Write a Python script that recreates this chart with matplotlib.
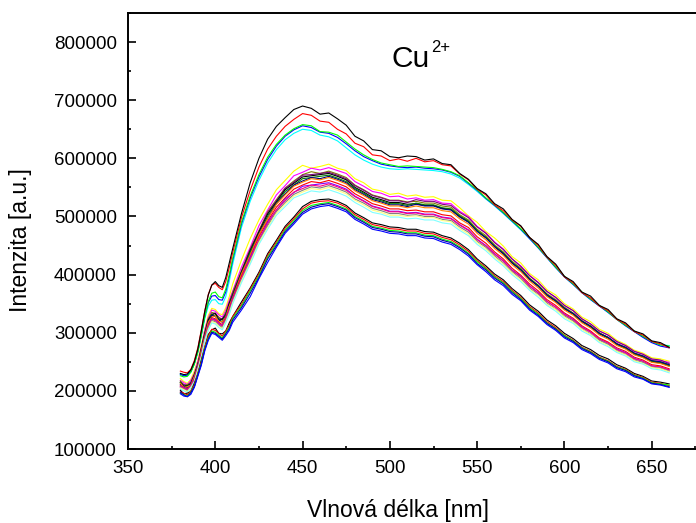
import matplotlib
matplotlib.use("Agg")
import matplotlib.pyplot as plt
import numpy as np
from matplotlib.ticker import MultipleLocator, FixedLocator, StrMethodFormatter

plt.rcParams["font.family"] = ["Liberation Sans", "DejaVu Sans"]

# Wavelength grid [nm]
wavelength = [380, 382, 384, 386, 388, 390, 392, 394, 396, 398, 400, 402, 404, 406, 408, 410,
              415, 420, 425, 430, 435, 440, 445, 450, 455, 460, 465, 470, 475, 480, 485, 490,
              495, 500, 505, 510, 515, 520, 525, 530, 535, 540, 545, 550, 555, 560, 565, 570,
              575, 580, 585, 590, 595, 600, 605, 610, 615, 620, 625, 630, 635, 640, 645, 650,
              655, 660]

# Emission spectra, intensity in thousands of a.u.
# --- upper set
top_black = [230, 228, 229, 236, 250, 272, 303, 337, 365, 382, 388, 381, 378, 395, 420, 445,
             505, 558, 600, 633, 655, 670, 684, 690, 686, 676,
             678, 668, 657, 638, 630, 615, 613, 603, 601, 604,
             603, 597, 599, 591, 589, 574, 564, 548, 539, 522,
             513, 495, 484, 464, 452, 431, 418, 397, 388, 370,
             363, 347, 340, 324, 317, 303, 298, 286, 283, 275]
top_red = [234, 232, 231, 237, 252, 274, 305, 338, 366, 382, 385, 378, 374, 388, 412, 438,
           498, 545, 585, 616, 638, 655, 667, 677, 674, 664,
           662, 650, 642, 626, 620, 606, 604, 596, 599, 595,
           600, 594, 596, 589, 587, 573, 563, 547, 537, 520,
           510, 494, 483, 464, 450, 430, 416, 396, 386, 369,
           360, 346, 338, 323, 315, 302, 296, 285, 281, 274]
top_green = [226, 224, 225, 232, 246, 267, 296, 328, 354, 368, 370, 362, 360, 375, 400, 428,
             490, 535, 572, 602, 624, 640, 651, 658, 656, 646,
             645, 640, 628, 616, 606, 598, 592, 589, 586, 587,
             586, 585, 584, 581, 577, 570, 558, 546, 532, 520,
             507, 493, 479, 464, 447, 430, 413, 397, 384, 370,
             358, 347, 336, 323, 313, 303, 294, 285, 279, 277]
top_blue = [228, 226, 227, 233, 247, 268, 297, 329, 352, 363, 364, 357, 356, 370, 396, 425,
            487, 532, 568, 598, 621, 638, 649, 656, 653, 645,
            643, 636, 625, 613, 603, 596, 590, 587, 585, 584,
            585, 583, 582, 580, 576, 569, 557, 545, 531, 519,
            506, 492, 478, 462, 446, 429, 412, 396, 383, 369,
            357, 346, 335, 323, 312, 302, 292, 283, 277, 274]
top_cyan = [229, 227, 227, 233, 246, 266, 294, 324, 346, 356, 357, 350, 349, 362, 388, 418,
            481, 526, 562, 592, 615, 632, 643, 650, 648, 640,
            637, 630, 618, 606, 597, 590, 585, 582, 581, 582,
            581, 580, 579, 577, 573, 566, 555, 543, 530, 518,
            505, 491, 477, 462, 446, 429, 412, 396, 383, 369,
            357, 346, 335, 323, 312, 302, 293, 284, 279, 278]

# --- middle set
mid_yellow = [221, 216, 213, 220, 234, 253, 279, 306, 330, 342, 340, 333, 331, 343, 362, 384,
              425, 462, 494, 521, 546, 562, 578, 588, 583, 586,
              590, 583, 579, 565, 558, 547, 544, 538, 540, 535,
              537, 533, 534, 528, 527, 515, 501, 490, 474, 463,
              449, 431, 420, 402, 391, 374, 365, 350, 341, 327,
              319, 306, 299, 287, 280, 270, 265, 257, 255, 251]
mid_magenta = [218, 214, 211, 218, 230, 251, 275, 305, 326, 339, 337, 331, 327, 339, 356, 372,
               413, 447, 484, 511, 537, 553, 570, 576, 583, 580,
               584, 579, 574, 560, 552, 543, 540, 534, 535, 530,
               532, 528, 529, 523, 522, 509, 500, 483, 472, 456,
               444, 427, 415, 399, 387, 371, 360, 347, 338, 324,
               315, 303, 296, 284, 278, 268, 263, 254, 252, 249]
mid_darkyellow = [217, 210, 211, 214, 229, 246, 274, 300, 324, 335, 333, 327, 323, 335, 351, 370,
                  407, 444, 476, 508, 529, 549, 561, 572, 577, 574,
                  578, 573, 567, 554, 546, 537, 533, 528, 528, 525,
                  526, 523, 523, 518, 516, 503, 494, 478, 467, 451,
                  439, 423, 411, 394, 382, 367, 357, 344, 334, 321,
                  312, 300, 292, 281, 275, 265, 260, 252, 250, 245]
mid_purple = [214, 211, 208, 215, 228, 245, 273, 299, 323, 332, 334, 324, 324, 332, 352, 367,
              405, 443, 474, 506, 527, 548, 559, 571, 572, 574,
              576, 571, 565, 553, 545, 536, 532, 527, 527, 524,
              529, 526, 526, 521, 519, 507, 498, 482, 471, 455,
              443, 427, 414, 398, 386, 371, 361, 347, 338, 324,
              315, 303, 296, 285, 278, 268, 263, 255, 253, 247]
mid_black = [215, 208, 209, 212, 227, 244, 272, 298, 322, 331, 333, 323, 323, 331, 350, 365,
             404, 441, 473, 504, 525, 546, 557, 568, 570, 572,
             574, 569, 563, 550, 542, 533, 529, 524, 524, 521,
             522, 519, 519, 514, 512, 500, 491, 475, 464, 448,
             436, 420, 408, 392, 380, 364, 354, 341, 332, 319,
             310, 298, 291, 280, 273, 263, 258, 250, 248, 243]
mid_olive = [214, 207, 208, 211, 225, 246, 269, 298, 318, 331, 329, 323, 319, 331, 346, 365,
             402, 439, 470, 501, 523, 543, 554, 565, 567, 569,
             571, 566, 560, 548, 540, 531, 527, 522, 522, 519,
             523, 520, 520, 515, 513, 501, 492, 476, 464, 449,
             437, 421, 409, 393, 381, 365, 355, 342, 333, 320,
             311, 299, 292, 281, 274, 264, 259, 251, 249, 244]
mid_navy = [211, 208, 205, 212, 224, 244, 267, 297, 317, 330, 328, 322, 318, 330, 345, 364,
            402, 435, 470, 497, 522, 539, 554, 561, 567, 565,
            569, 564, 558, 546, 538, 529, 525, 520, 520, 517,
            521, 518, 518, 513, 511, 499, 490, 474, 463, 448,
            436, 420, 408, 392, 380, 365, 355, 342, 333, 320,
            311, 299, 292, 281, 275, 265, 260, 252, 250, 245]
mid_orange = [213, 206, 207, 210, 225, 242, 269, 294, 318, 327, 329, 319, 319, 327, 346, 361,
              401, 434, 469, 496, 521, 537, 552, 559, 565, 563,
              567, 562, 556, 544, 536, 527, 523, 518, 518, 515,
              518, 515, 515, 510, 508, 496, 487, 471, 460, 445,
              433, 417, 405, 389, 377, 362, 352, 339, 330, 317,
              308, 296, 289, 278, 272, 262, 257, 249, 247, 242]
mid_red = [209, 206, 203, 210, 221, 242, 265, 293, 313, 326, 324, 318, 314, 326, 341, 360,
           397, 430, 465, 492, 516, 532, 547, 554, 560, 558,
           562, 557, 551, 539, 531, 522, 518, 513, 513, 510,
           511, 508, 508, 503, 501, 489, 481, 465, 454, 439,
           427, 411, 399, 384, 372, 357, 347, 334, 325, 312,
           303, 291, 284, 274, 268, 258, 253, 245, 243, 238]
mid_violet = [208, 205, 202, 209, 220, 241, 263, 291, 311, 324, 322, 316, 312, 324, 339, 358,
              393, 429, 460, 490, 511, 530, 541, 552, 554, 556,
              558, 553, 547, 535, 527, 518, 514, 509, 509, 506,
              507, 504, 504, 499, 497, 486, 477, 461, 450, 436,
              424, 408, 397, 381, 369, 354, 344, 332, 323, 310,
              301, 289, 282, 272, 266, 256, 251, 243, 241, 236]
mid_pink = [207, 204, 201, 208, 219, 239, 262, 290, 310, 323, 321, 315, 311, 323, 337, 356,
            393, 426, 460, 487, 511, 527, 542, 548, 554, 552,
            556, 551, 545, 534, 526, 517, 513, 508, 508, 505,
            506, 503, 503, 498, 496, 485, 476, 460, 449, 435,
            423, 407, 396, 380, 368, 354, 344, 331, 322, 309,
            301, 289, 282, 271, 265, 255, 251, 243, 241, 236]
mid_gray = [206, 203, 200, 207, 217, 238, 260, 289, 308, 321, 319, 313, 309, 321, 335, 354,
            391, 423, 457, 484, 508, 524, 538, 545, 551, 549,
            553, 548, 542, 530, 523, 514, 510, 505, 505, 502,
            503, 500, 500, 495, 493, 482, 473, 457, 447, 432,
            420, 405, 393, 377, 366, 351, 341, 329, 320, 307,
            298, 287, 280, 269, 263, 253, 249, 241, 239, 234]
mid_ltyellow = [205, 202, 199, 206, 216, 237, 259, 287, 306, 319, 317, 311, 307, 319, 334, 352,
                389, 421, 455, 481, 505, 521, 535, 542, 548, 546,
                550, 545, 539, 528, 520, 511, 507, 502, 502, 500,
                501, 498, 498, 493, 491, 479, 470, 455, 444, 430,
                418, 403, 391, 375, 364, 349, 340, 327, 318, 306,
                297, 285, 278, 268, 262, 252, 247, 240, 238, 233]
mid_ltcyan = [203, 200, 197, 204, 215, 235, 257, 285, 304, 317, 315, 309, 305, 317, 331, 350,
              386, 418, 452, 478, 502, 517, 532, 538, 544, 542,
              546, 541, 535, 524, 516, 507, 504, 499, 499, 496,
              497, 494, 494, 489, 487, 476, 467, 452, 441, 427,
              415, 400, 388, 373, 361, 347, 337, 324, 316, 303,
              295, 283, 276, 266, 260, 250, 246, 238, 236, 231]

# --- lower set
low_black = [201, 195, 196, 199, 213, 229, 253, 275, 297, 305, 308, 299, 298, 303, 317, 328,
             353, 377, 404, 436, 459, 483, 499, 517, 526, 529,
             530, 526, 519, 506, 498, 489, 486, 482, 481, 478,
             478, 474, 473, 467, 463, 454, 443, 427, 415, 401,
             391, 376, 364, 348, 337, 322, 312, 299, 290, 278,
             271, 261, 255, 245, 239, 230, 225, 217, 215, 212]
low_red = [198, 196, 193, 200, 210, 230, 250, 276, 294, 306, 304, 299, 294, 303, 313, 328,
           349, 375, 401, 433, 456, 480, 496, 513, 523, 526,
           527, 523, 516, 503, 495, 486, 483, 479, 478, 475,
           475, 471, 470, 464, 460, 451, 440, 424, 412, 398,
           388, 373, 361, 345, 334, 319, 309, 296, 287, 275,
           268, 258, 252, 242, 237, 228, 223, 215, 213, 209]
low_green = [196, 194, 191, 198, 208, 228, 248, 273, 291, 303, 301, 296, 291, 300, 310, 325,
             346, 372, 398, 430, 453, 477, 493, 510, 519, 522,
             524, 519, 513, 500, 492, 483, 480, 476, 475, 472,
             472, 468, 467, 461, 457, 448, 437, 422, 410, 396,
             386, 371, 359, 343, 332, 317, 307, 295, 286, 274,
             267, 257, 251, 241, 236, 227, 222, 214, 212, 210]
low_navy = [198, 193, 190, 197, 207, 227, 246, 271, 289, 301, 299, 294, 289, 298, 307, 322,
            343, 368, 395, 427, 450, 474, 490, 507, 516, 520,
            522, 517, 511, 498, 490, 481, 478, 474, 473, 470,
            470, 466, 465, 459, 455, 446, 435, 419, 408, 394,
            384, 369, 357, 341, 330, 316, 306, 293, 285, 273,
            266, 256, 250, 240, 235, 226, 221, 213, 211, 207]
low_blue = [195, 191, 190, 194, 206, 225, 244, 269, 287, 299, 297, 292, 287, 295, 304, 318,
            339, 362, 393, 421, 447, 471, 487, 504, 513, 517,
            519, 514, 508, 495, 487, 478, 475, 471, 470, 467,
            467, 463, 462, 456, 452, 443, 432, 417, 405, 391,
            381, 366, 355, 339, 328, 314, 304, 291, 283, 271,
            264, 254, 248, 238, 233, 224, 220, 212, 210, 206]

series = [
    (mid_yellow, "#FFFF00"), (mid_magenta, "#FF00FF"), (mid_darkyellow, "#808000"),
    (mid_purple, "#800080"), (mid_black, "#000000"), (mid_olive, "#008000"),
    (mid_navy, "#000080"), (mid_orange, "#FF8000"), (mid_red, "#FF0000"),
    (mid_violet, "#8000FF"), (mid_pink, "#FF0080"), (mid_gray, "#808080"),
    (mid_ltyellow, "#FFFF80"), (mid_ltcyan, "#80FFFF"),
    (low_black, "#000000"), (low_red, "#FF0000"), (low_green, "#00FF00"),
    (low_navy, "#0000A0"), (low_blue, "#0000FF"),
    (top_cyan, "#00FFFF"), (top_blue, "#0000FF"), (top_green, "#00FF00"),
    (top_red, "#FF0000"), (top_black, "#000000"),
]

W, H = 696, 523
fig = plt.figure(figsize=(W / 100, H / 100), dpi=100)
ax = fig.add_axes([128 / W, 74 / H, 611 / W, 436 / H])

for values, colour in series:
    ax.plot(wavelength, np.asarray(values) * 1000, color=colour, lw=0.8)

ax.set_xlim(350, 700)
ax.set_ylim(100000, 850000)
ax.xaxis.set_major_locator(FixedLocator(np.arange(350, 651, 50)))
ax.xaxis.set_minor_locator(FixedLocator(np.arange(375, 676, 50)))
ax.yaxis.set_major_locator(FixedLocator(np.arange(100000, 800001, 100000)))
ax.yaxis.set_minor_locator(FixedLocator(np.arange(150000, 850001, 100000)))
ax.yaxis.set_major_formatter(StrMethodFormatter("{x:.0f}"))

ax.tick_params(which="both", direction="in", top=False, right=False,
               labelsize=13.5, width=1.2, pad=8)
ax.tick_params(which="major", length=6)
ax.tick_params(which="minor", length=2.5)
for spine in ax.spines.values():
    spine.set_linewidth(1.4)

fig.text(398 / W, 1 - 517 / H, "Vlnová délka [nm]", ha="center", va="baseline", fontsize=16.5)
fig.text(21 / W, 1 - 240 / H, "Intenzita [a.u.]", ha="center", va="center",
         rotation=90, fontsize=16.5)

fig.text(391.5 / W, 1 - 66.7 / H, "Cu", ha="left", va="baseline", fontsize=21.5)
fig.text(431.5 / W, 1 - 51.7 / H, "2+", ha="left", va="baseline", fontsize=12)

fig.savefig("out.png", dpi=100)
